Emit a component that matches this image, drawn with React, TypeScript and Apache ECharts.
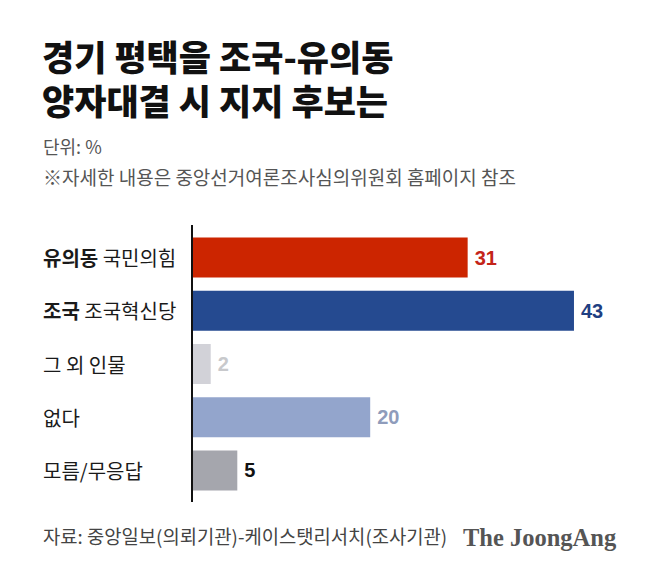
import React, { useEffect, useRef } from "react";
import * as echarts from "echarts";

const categories = ["유의동 국민의힘", "조국 조국혁신당", "그 외 인물", "없다", "모름/무응답"];
const values = [31, 43, 2, 20, 5];
const barColors = ["#CC2500", "#254A90", "#D2D2D8", "#93A5CC", "#A5A6AD"];
const labelColors = ["#C42418", "#1F3F82", "#C8C9CC", "#8F9CBB", "#111111"];
const boldParts: Record<string, string> = { "유의동 국민의힘": "유의동", "조국 조국혁신당": "조국" };
const titleLines = ["경기 평택을 조국-유의동", "양자대결 시 지지 후보는"];

const KR = "'Noto Sans CJK KR', 'Noto Sans', sans-serif";

export default function App() {
  const ref = useRef<HTMLDivElement>(null);
  useEffect(() => {
    if (!ref.current) return;
    const chart = echarts.init(ref.current, null, { renderer: "svg" });
    chart.setOption({
      animation: false,
      backgroundColor: "#ffffff",
      grid: { left: 193, top: 231, height: 266, right: 22 },
      xAxis: { type: "value", min: 0, max: 50, show: false },
      yAxis: {
        type: "category",
        data: categories,
        inverse: true,
        axisLine: { show: false },
        axisTick: { show: false },
        axisLabel: {
          align: "left",
          margin: 150,
          formatter: (v: string) => {
            const b = boldParts[v];
            if (b) return `{b|${b}}{r| ${v.slice(b.length + 1)}}`;
            return `{r|${v}}`;
          },
          rich: {
            b: { fontFamily: KR, fontSize: 20, fontWeight: "bold", color: "#1a1a1a" },
            r: { fontFamily: KR, fontSize: 20, fontWeight: "normal", color: "#1a1a1a" },
          },
        },
      },
      series: [
        {
          type: "bar",
          barWidth: 40,
          data: values.map((v, i) => ({
            value: v,
            itemStyle: { color: barColors[i] },
            label: { color: labelColors[i] },
          })),
          label: {
            show: true,
            position: "right",
            distance: 7,
            fontFamily: "'Liberation Sans', Arial, sans-serif",
            fontWeight: "bold",
            fontSize: 20,
          },
        },
      ],
      graphic: [
        { type: "line", shape: { x1: 192, y1: 225, x2: 192, y2: 502 }, style: { stroke: "#111", lineWidth: 2 } },
        ...titleLines.map((t, i) => ({
          type: "text", left: 42, top: 37 + i * 44,
          style: { text: t, font: `900 35px ${KR}`, lineHeight: 36, fill: "#111" },
        })),
        {
          type: "text", left: 43, top: 137,
          style: { text: "단위: %", font: `18px ${KR}`, fill: "#555" },
        },
        {
          type: "text", left: 43, top: 167,
          style: { text: "※자세한 내용은 중앙선거여론조사심의위원회 홈페이지 참조", font: `19px ${KR}`, fill: "#555" },
        },
        {
          type: "text", left: 43, top: 526,
          style: { text: "자료: 중앙일보(의뢰기관)-케이스탯리서치(조사기관)", font: `18.8px ${KR}`, fill: "#444" },
        },
        {
          type: "text", left: 463, top: 525,
          style: { text: "The JoongAng", font: "bold 24.5px 'Liberation Serif', 'DejaVu Serif', serif", fill: "#555" },
        },
      ],
    });
    return () => chart.dispose();
  }, []);
  return <div ref={ref} style={{ position: "fixed", left: 0, top: 0, width: 658, height: 578 }} />;
}
